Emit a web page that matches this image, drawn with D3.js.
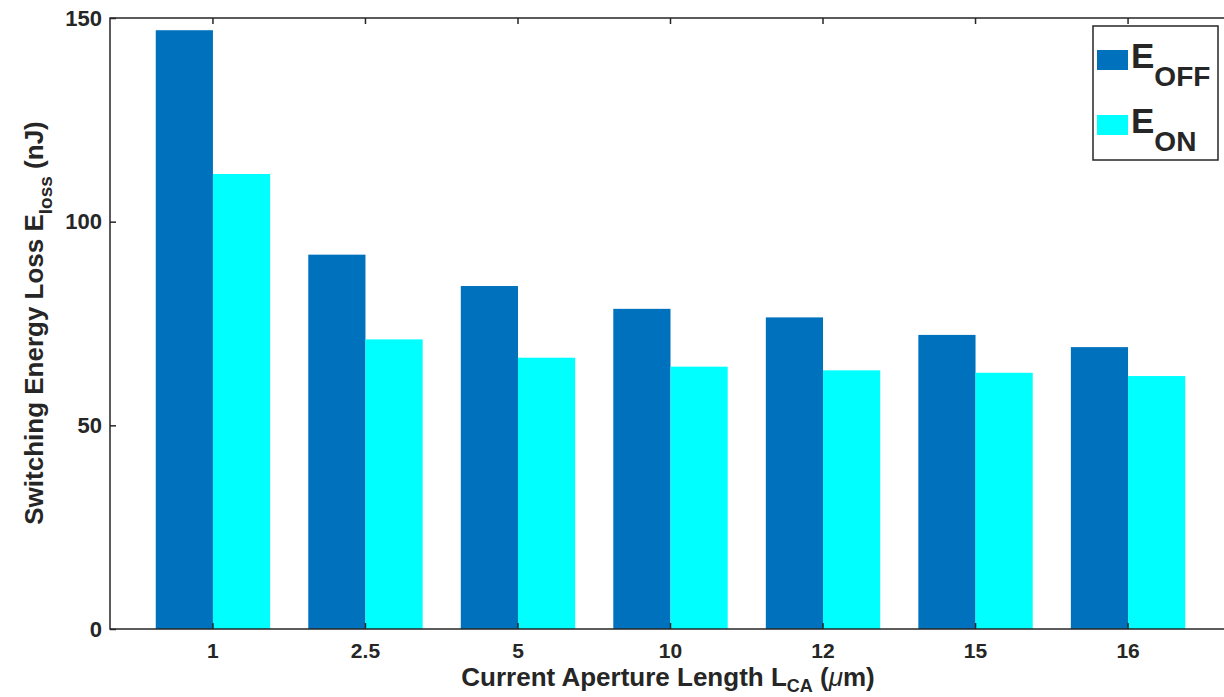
<!DOCTYPE html>
<html>
<head>
<meta charset="utf-8">
<script src="https://cdn.jsdelivr.net/npm/d3@7"></script>
<style>
  body { margin: 0; background: #fff; }
  text { font-family: "Liberation Sans", Arial, sans-serif; font-weight: bold; fill: #262626; }
</style>
</head>
<body>
<div id="chart"></div>
<script>
var categories = ["1", "2.5", "5", "10", "12", "15", "16"];
var eOff = [147.0, 91.9, 84.2, 78.6, 76.5, 72.2, 69.2];
var eOn = [111.7, 71.1, 66.6, 64.4, 63.5, 62.9, 62.1];
var yTicks = [0, 50, 100, 150];
var seriesNames = ["OFF", "ON"];
var seriesColors = ["#0072BD", "#00FFFF"];

function init() {
    var w = 1224;
    var h = 697;
    var left = 110, right = 1231, top = 18, bottom = 629;

    var svg = d3.select("#chart")
        .append("svg")
        .attr("width", w)
        .attr("height", h);

    var x = d3.scaleBand()
        .domain(categories)
        .range([left, right])
        .paddingInner(0.25)
        .paddingOuter(0.3);

    var x1 = d3.scaleBand()
        .domain([0, 1])
        .range([0, x.bandwidth()]);

    var y = d3.scaleLinear()
        .domain([0, 150])
        .range([bottom, top]);

    var series = [eOff, eOn];

    // bars
    series.forEach(function (vals, s) {
        svg.append("g")
            .selectAll("rect")
            .data(vals)
            .enter()
            .append("rect")
            .attr("x", function (d, i) { return x(categories[i]) + x1(s); })
            .attr("y", function (d) { return y(d); })
            .attr("width", x1.bandwidth())
            .attr("height", function (d) { return y(0) - y(d); })
            .attr("fill", seriesColors[s]);
    });

    // box
    var axisColor = "#262626";
    svg.append("rect")
        .attr("x", left)
        .attr("y", top)
        .attr("width", right - left)
        .attr("height", bottom - top)
        .attr("fill", "none")
        .attr("stroke", axisColor)
        .attr("stroke-width", 1.5);

    // x axis (ticks inward, bottom and top)
    var xAxis = d3.axisBottom(x).tickSizeInner(-6).tickSizeOuter(0).tickPadding(14);
    var gx = svg.append("g")
        .attr("transform", "translate(0," + bottom + ")")
        .call(xAxis);
    gx.select(".domain").remove();
    gx.selectAll("line").attr("stroke", axisColor).attr("stroke-width", 1.5);
    gx.selectAll("text").attr("font-size", "21px").attr("fill", axisColor);

    var gxTop = svg.append("g")
        .attr("transform", "translate(0," + top + ")")
        .call(d3.axisTop(x).tickSizeInner(-6).tickSizeOuter(0).tickFormat(""));
    gxTop.select(".domain").remove();
    gxTop.selectAll("line").attr("stroke", axisColor).attr("stroke-width", 1.5);

    // y axis
    var gy = svg.append("g")
        .attr("transform", "translate(" + left + ",0)")
        .call(d3.axisLeft(y).tickValues(yTicks).tickSizeInner(-6).tickSizeOuter(0).tickPadding(8));
    gy.select(".domain").remove();
    gy.selectAll("line").attr("stroke", axisColor).attr("stroke-width", 1.5);
    gy.selectAll("text").attr("font-size", "22px").attr("fill", axisColor);

    var gyR = svg.append("g")
        .attr("transform", "translate(" + right + ",0)")
        .call(d3.axisRight(y).tickValues(yTicks).tickSizeInner(-6).tickSizeOuter(0).tickFormat(""));
    gyR.select(".domain").remove();
    gyR.selectAll("line").attr("stroke", axisColor).attr("stroke-width", 1.5);

    // x label
    var xl = svg.append("text")
        .attr("x", 668)
        .attr("y", 686)
        .attr("text-anchor", "middle")
        .attr("font-size", "26px");
    xl.append("tspan").text("Current Aperture Length L");
    xl.append("tspan").attr("dy", 6).attr("font-size", "18px").text("CA");
    xl.append("tspan").attr("dy", -6).text(" (");
    xl.append("tspan").attr("font-style", "italic").attr("font-weight", "normal").text("\u03bc");
    xl.append("tspan").text("m)");

    // y label
    var yl = svg.append("text")
        .attr("transform", "translate(43,323) rotate(-90)")
        .attr("text-anchor", "middle")
        .attr("font-size", "26px");
    yl.append("tspan").text("Switching Energy Loss E");
    yl.append("tspan").attr("dy", 9).attr("font-size", "19px").text("loss");
    yl.append("tspan").attr("dy", -9).text(" (nJ)");

    // legend
    var lg = svg.append("g");
    lg.append("rect")
        .attr("x", 1093)
        .attr("y", 26)
        .attr("width", 125)
        .attr("height", 134)
        .attr("fill", "#fff")
        .attr("stroke", axisColor)
        .attr("stroke-width", 1.5);
    seriesNames.forEach(function (name, s) {
        var yy = 60 + s * 65;
        lg.append("rect")
            .attr("x", 1097)
            .attr("y", yy - 10)
            .attr("width", 31)
            .attr("height", 20)
            .attr("fill", seriesColors[s]);
        var t = lg.append("text")
            .attr("x", 1131)
            .attr("y", yy + 7.5)
            .attr("font-size", "35px")
            .attr("fill", "#000");
        t.append("tspan").text("E");
        t.append("tspan").attr("dy", 18).attr("font-size", "28px").text(name);
    });
}
window.onload = init;
</script>
</body>
</html>
